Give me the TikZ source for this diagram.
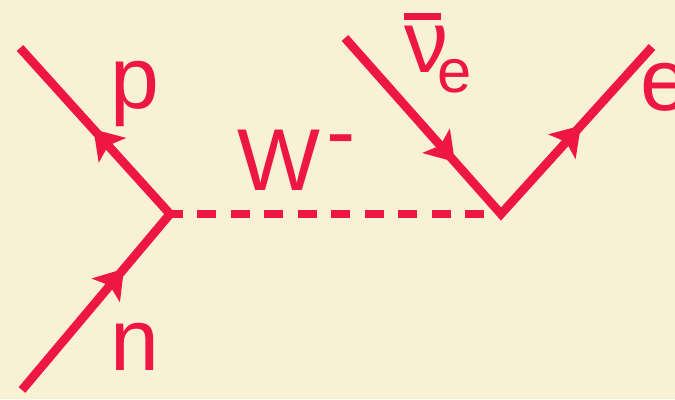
\documentclass[tikz,border=0pt]{standalone}
\usepackage{fontspec}
\setmainfont{Liberation Sans}
\usetikzlibrary{arrows.meta,decorations.markings}

\definecolor{paper}{RGB}{249,241,213}
\definecolor{fermion}{RGB}{238,22,66}

\tikzset{
  lbl/.style={anchor=base west, inner sep=0pt, outer sep=0pt, text=fermion,
    font=\fontsize{50}{60}\selectfont},
  ftip/.tip={Stealth[length=0.56cm,width=0.72cm,inset=0.12cm]},
  fline/.style 2 args={draw=fermion, line width=5pt, postaction={decorate},
    decoration={markings,
      mark=at position #1 with {\arrow{ftip}},
      mark=at position #2 with {\arrow{ftip}}}},
  wline/.style={draw=fermion, line width=5pt,
    dash pattern=on 0.38cm off 0.29cm, dash phase=0.12cm},
}

\begin{document}
\begin{tikzpicture}[x=0.02cm,y=-0.02cm]
            % Background
            \fill[paper] (0,0) rectangle (675,399);
            \useasboundingbox (0,0) rectangle (675,399);
            % Vertices and outer ends
            \coordinate (vL) at (170,214);
            \coordinate (vR) at (501,214);
            \coordinate (pEnd) at (20,48);
            \coordinate (nEnd) at (22,390);
            \coordinate (nuEnd) at (345,38);
            \coordinate (eEnd) at (652,47);

            % Fermion lines
            \draw[fline={0.35}{0.76}] (nEnd) -- (vL) -- (pEnd);
            \draw[fline={0.36}{0.77}] (nuEnd) -- (vR) -- (eEnd);

            % W propagator
            \draw[wline] (vL) -- (vR);

            % Labels
            \node[lbl] (pLab) at (110,108) {p};
            \node[lbl] (nLab) at (110,370) {n};
            \node[lbl] (wLab) at (237,190) {W\kern4pt\raisebox{16pt}{-}};
            \node[lbl] (nuLab) at (404,72) {\rlap{\rule[29.6pt]{21pt}{4pt}}ν\kern-6pt\raisebox{-11.4pt}{\fontsize{35}{40}\selectfont e}};
            \node[lbl] (eLab) at (640,110) {e};
        \end{tikzpicture}
\end{document}
